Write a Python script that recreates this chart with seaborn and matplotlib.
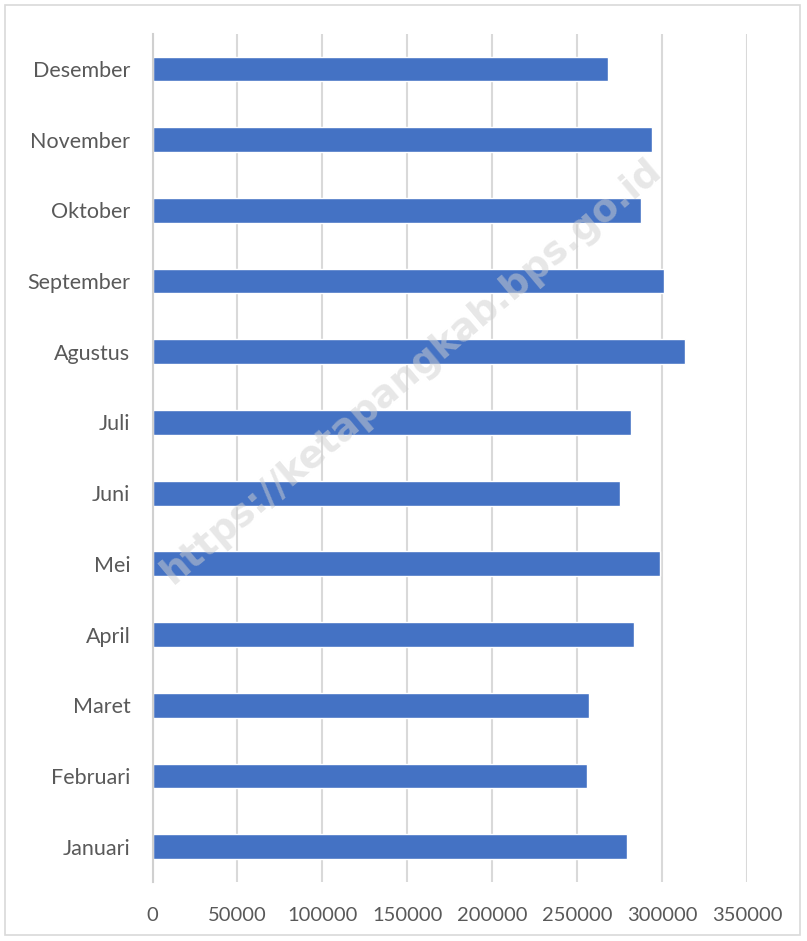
import pandas as pd
import seaborn as sns
import matplotlib.pyplot as plt
from matplotlib.patches import Rectangle

months = ["Januari", "Februari", "Maret", "April", "Mei", "Juni",
          "Juli", "Agustus", "September", "Oktober", "November", "Desember"]
values = [279400, 255900, 256700, 283200, 298900, 275500,
          281600, 313600, 301200, 287700, 293800, 268400]
xticks = [0, 50000, 100000, 150000, 200000, 250000, 300000, 350000]

df = pd.DataFrame({"bulan": months, "nilai": values})

sns.set_theme(style="white")
plt.rcParams['font.family'] = ['Lato', 'DejaVu Sans']

fig = plt.figure(figsize=(8.07, 9.41), dpi=100)
ax = fig.add_axes([0.189, 0.0627, 0.7367, 0.9016])

sns.barplot(data=df, x="nilai", y="bulan", order=months[::-1], orient="h",
            color="#4472C4", saturation=1, width=0.35, ax=ax)

ax.set_xlim(0, 350000)
ax.set_ylim(11.5, -0.5)
ax.set_xticks(xticks)
ax.set_xticklabels([str(t) for t in xticks])
ax.xaxis.grid(True, color="#d9d9d9", linewidth=1.5)
ax.set_axisbelow(True)
for s in ["top", "right", "bottom"]:
    ax.spines[s].set_visible(False)
ax.spines["left"].set_color("#d0d0d0")
ax.spines["left"].set_linewidth(1.5)
ax.set_xlabel("")
ax.set_ylabel("")
ax.tick_params(axis="x", length=0, pad=18, labelsize=14.5, labelcolor="#595959")
ax.tick_params(axis="y", length=0, pad=16, labelsize=15.5, labelcolor="#595959")

# watermark
fig.text(0.51, 0.605, "https://ketapangkab.bps.go.id", rotation=40,
         ha="center", va="center", fontsize=27, fontweight="bold",
         color="#d0d0d0", alpha=0.5, family=["DejaVu Sans"])

# outer border
fig.patches.append(Rectangle((5 / 807, 6 / 941), 795 / 807, 930 / 941,
                             transform=fig.transFigure, fill=False,
                             edgecolor="#d9d9d9", linewidth=1.2))

fig.savefig("out.png", dpi=100)
